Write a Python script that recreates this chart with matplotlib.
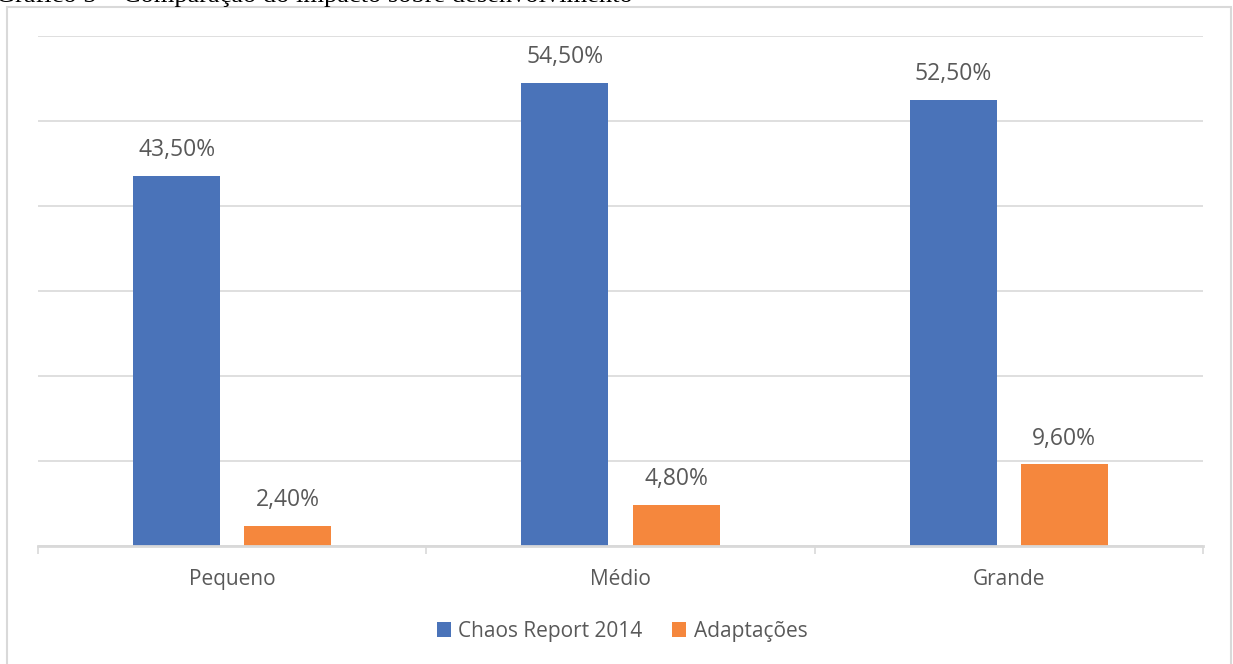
import matplotlib
matplotlib.use("Agg")
import matplotlib.pyplot as plt
import numpy as np
from matplotlib.patches import Rectangle

categories = ["Pequeno", "Médio", "Grande"]
chaos_2014 = [43.5, 54.5, 52.5]
adaptacoes = [2.4, 4.8, 9.6]
series_names = ["Chaos Report 2014", "Adaptações"]

blue = "#4a73b9"
orange = "#f5873d"
text_gray = "#595959"
grid_gray = "#d9d9d9"

plt.rcParams["font.family"] = ["Open Sans", "DejaVu Sans"]

fig = plt.figure(figsize=(12.33, 6.64), dpi=100)
W, H = 1233, 664
ax = fig.add_axes([38 / W, 1 - 546 / H, (1203 - 38) / W, (546 - 36) / H])

x = np.arange(len(categories))
w = 0.224
off = 0.143
b1 = ax.bar(x - off, chaos_2014, w, color=blue, label=series_names[0], zorder=3)
b2 = ax.bar(x + off, adaptacoes, w, color=orange, label=series_names[1], zorder=3)

for bars, vals in ((b1, chaos_2014), (b2, adaptacoes)):
    for rect, v in zip(bars, vals):
        ax.annotate(f"{v:.2f}%".replace(".", ","),
                    (rect.get_x() + rect.get_width() / 2, rect.get_height()),
                    xytext=(0, 10), textcoords="offset points",
                    ha="center", va="bottom", fontsize=16.5, color=text_gray)

ax.set_xlim(-0.5, 2.5)
ax.set_ylim(0, 60)
ax.set_yticks(np.arange(0, 61, 10))
ax.yaxis.grid(True, color=grid_gray, lw=1.2, zorder=0)
ax.tick_params(axis="y", length=0, labelleft=False)
ax.set_xticks(x)
ax.set_xticklabels(categories, fontsize=15, color=text_gray)
ax.tick_params(axis="x", length=0, pad=16.5)
ax.set_xticks([-0.5, 0.5, 1.5, 2.5], minor=True)
ax.tick_params(axis="x", which="minor", length=6, width=1.2, color=grid_gray)
for s in ["top", "right", "left"]:
    ax.spines[s].set_visible(False)
ax.spines["bottom"].set_color(grid_gray)
ax.spines["bottom"].set_linewidth(2)
ax.spines["bottom"].set_zorder(4)

fig.legend(handles=[b1, b2], labels=series_names, loc="center",
           bbox_to_anchor=(622 / W, 1 - 631 / H), ncol=2, frameon=False,
           fontsize=15, labelcolor=text_gray, handlelength=0.7, handleheight=0.7,
           handletextpad=0.35, columnspacing=1.4)

# outer chart frame
fig.patches.append(Rectangle((7 / W, -0.01), (1231 - 7) / W, 1 - 7 / H + 0.01,
                             transform=fig.transFigure, fill=False,
                             edgecolor=grid_gray, lw=1.5))

# caption above the chart, cut off at the top
fig.text(-4 / W, 1 + 4 / H, "Gráfico 5 – Comparação do impacto sobre desenvolvimento",
         family=["Liberation Serif", "DejaVu Serif"], fontsize=19, color="black",
         ha="left", va="center")

fig.savefig("out.png", dpi=100)
